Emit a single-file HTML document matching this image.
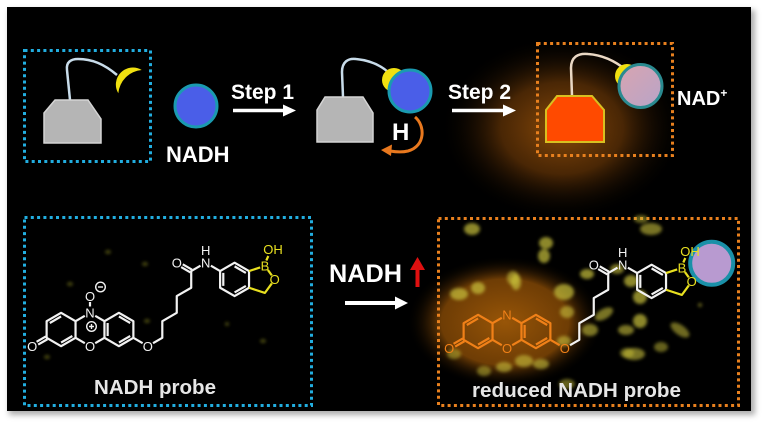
<!DOCTYPE html>
<html><head><meta charset="utf-8"><style>
html,body{margin:0;padding:0;background:#fff;width:768px;height:428px;overflow:hidden}
svg{display:block}
</style></head><body>
<svg width="768" height="428" viewBox="0 0 768 428" xmlns="http://www.w3.org/2000/svg" font-family="'Liberation Sans', Arial, sans-serif">
<defs>
  <filter id="sh" x="-5%" y="-5%" width="110%" height="115%"><feGaussianBlur stdDeviation="3"/></filter>
  <filter id="bl" x="-50%" y="-50%" width="200%" height="200%"><feGaussianBlur stdDeviation="1.6"/></filter>
  <radialGradient id="gTop" cx="0.5" cy="0.5" r="0.5">
    <stop offset="0" stop-color="#a4580a" stop-opacity="0.85"/>
    <stop offset="0.5" stop-color="#7a4008" stop-opacity="0.6"/>
    <stop offset="1" stop-color="#000" stop-opacity="0"/>
  </radialGradient>
  <radialGradient id="gBot" cx="0.5" cy="0.5" r="0.5">
    <stop offset="0" stop-color="#a05a08" stop-opacity="0.95"/>
    <stop offset="0.65" stop-color="#8a4c06" stop-opacity="0.8"/>
    <stop offset="1" stop-color="#000" stop-opacity="0"/>
  </radialGradient>
  <linearGradient id="pink" x1="0" y1="0" x2="1" y2="1">
    <stop offset="0" stop-color="#d8a4b0"/>
    <stop offset="1" stop-color="#b8a4c8"/>
  </linearGradient>
</defs>

<!-- panel -->
<rect x="9" y="10" width="746" height="405" fill="#777" filter="url(#sh)" opacity="0.6"/>
<rect x="7" y="7" width="744" height="404" fill="#000"/>

<!-- glows -->
<ellipse cx="562" cy="128" rx="122" ry="92" fill="url(#gTop)"/>
<ellipse cx="505" cy="322" rx="98" ry="66" fill="url(#gBot)"/>

<!-- dotted boxes -->
<g fill="none" stroke-width="3" stroke-dasharray="3 3.3">
  <rect x="24.5" y="50.5" width="126" height="111" stroke="#22aee0"/>
  <rect x="537.5" y="43.5" width="135" height="112" stroke="#e8801e"/>
  <rect x="24.5" y="217.5" width="287" height="188" stroke="#22aee0"/>
  <rect x="438.5" y="218.5" width="300" height="187" stroke="#e8801e"/>
</g>

<!-- faint specks left box -->
<g fill="#5a5a18" filter="url(#bl)" opacity="0.8">
  <ellipse cx="108" cy="252" rx="3" ry="2"/>
  <ellipse cx="145" cy="264" rx="3" ry="2"/>
  <ellipse cx="70" cy="284" rx="3" ry="2"/>
  <ellipse cx="147" cy="321" rx="3" ry="2"/>
  <ellipse cx="263" cy="341" rx="3" ry="2"/>
  <ellipse cx="47" cy="357" rx="3" ry="2"/>
  <ellipse cx="227" cy="324" rx="2" ry="2"/>
</g>

<!-- yellow cells right box -->
<g fill="#c8c03a" filter="url(#bl)">
  <ellipse cx="472" cy="229" rx="8" ry="6" opacity="0.7"/>
  <ellipse cx="546" cy="243" rx="7" ry="6" opacity="0.7"/>
  <ellipse cx="544" cy="256" rx="6" ry="7" opacity="0.7"/>
  <ellipse cx="651" cy="229" rx="11" ry="6" opacity="0.6"/>
  <ellipse cx="641" cy="219" rx="7" ry="4" opacity="0.5"/>
  <ellipse cx="516" cy="282" rx="5" ry="8" opacity="0.7"/>
  <ellipse cx="459" cy="294" rx="9" ry="6" opacity="0.7"/>
  <ellipse cx="478" cy="288" rx="7" ry="6" opacity="0.7"/>
  <ellipse cx="564" cy="292" rx="10" ry="8" opacity="0.7"/>
  <ellipse cx="567" cy="312" rx="7" ry="6" opacity="0.6"/>
  <ellipse cx="587" cy="274" rx="7" ry="5" opacity="0.7"/>
  <ellipse cx="617" cy="269" rx="7" ry="5" opacity="0.6"/>
  <ellipse cx="631" cy="281" rx="7" ry="6" opacity="0.7"/>
  <ellipse cx="604" cy="314" rx="10" ry="5" opacity="0.6" transform="rotate(-30 604 314)"/>
  <ellipse cx="640" cy="297" rx="7" ry="7" opacity="0.7"/>
  <ellipse cx="640" cy="321" rx="7" ry="7" opacity="0.7"/>
  <ellipse cx="626" cy="330" rx="8" ry="5" opacity="0.6"/>
  <ellipse cx="680" cy="330" rx="11" ry="5" opacity="0.55" transform="rotate(35 680 330)"/>
  <ellipse cx="634" cy="354" rx="11" ry="6" opacity="0.6"/>
  <ellipse cx="661" cy="347" rx="7" ry="5" opacity="0.5"/>
  <ellipse cx="590" cy="330" rx="8" ry="6" opacity="0.6"/>
  <ellipse cx="564" cy="341" rx="7" ry="5" opacity="0.6"/>
  <ellipse cx="524" cy="361" rx="9" ry="6" opacity="0.6"/>
  <ellipse cx="504" cy="367" rx="8" ry="5" opacity="0.6"/>
  <ellipse cx="541" cy="364" rx="8" ry="5" opacity="0.6"/>
  <ellipse cx="484" cy="371" rx="7" ry="5" opacity="0.5"/>
  <ellipse cx="454" cy="354" rx="7" ry="5" opacity="0.5"/>
  <ellipse cx="567" cy="384" rx="8" ry="5" opacity="0.5"/>
  <ellipse cx="513" cy="278" rx="6" ry="7" opacity="0.6"/>
  <ellipse cx="627" cy="353" rx="7" ry="5" opacity="0.5"/>
  <ellipse cx="700" cy="305" rx="2" ry="2" opacity="0.5"/>
</g>

<!-- ===== top row ===== -->
<!-- group 1 -->
<path d="M70,100 L67,70 C66,62 71,59 78,59 C92,59 104,64 117,75" fill="none" stroke="#c8dcea" stroke-width="2.5"/>
<path d="M141.7,70 A17,17 0 0,0 118.3,93.3 A25.7,25.7 0 0,1 141.7,70 Z" fill="#f0e010"/>
<polygon points="44,113 55,100 88,100 101,119 101,143 44,143" fill="#b5b5b5" stroke="#d4d4d4" stroke-width="1.5"/>

<circle cx="196" cy="106" r="21" fill="#4a5ee8" stroke="#1a9ab0" stroke-width="3"/>
<text x="166" y="162" font-size="22" font-weight="bold" fill="#fff">NADH</text>

<text x="231" y="99" font-size="21" font-weight="bold" fill="#fff">Step 1</text>
<line x1="233" y1="110.5" x2="287" y2="110.5" stroke="#fff" stroke-width="3.5"/>
<polygon points="283,104.5 296,110.5 283,116.5" fill="#fff"/>

<!-- group 2 -->
<path d="M343,97 L342,72 C342,62 348,58 356,59 C366,60 378,63 388,72" fill="none" stroke="#c8dcea" stroke-width="2.5"/>
<circle cx="394" cy="80" r="12" fill="#f0e010"/>
<circle cx="410" cy="91" r="21" fill="#4a5ee8" stroke="#1a9ab0" stroke-width="3"/>
<polygon points="317,110 325,97 363,97 373,113 373,142 317,142" fill="#b5b5b5" stroke="#d4d4d4" stroke-width="1.5"/>
<text x="392" y="140" font-size="24" font-weight="bold" fill="#fff">H</text>
<path d="M415,117 C425,125 426,146 408,151 C402,152.5 396,152 390,151" fill="none" stroke="#e8781e" stroke-width="3"/>
<polygon points="381,150 392,144.5 391,156" fill="#e8781e"/>

<text x="448" y="99" font-size="21" font-weight="bold" fill="#fff">Step 2</text>
<line x1="452" y1="110.5" x2="506" y2="110.5" stroke="#fff" stroke-width="3.5"/>
<polygon points="503,104.5 516,110.5 503,116.5" fill="#fff"/>

<!-- group 3 -->
<path d="M572,96 L571,68 C571,57 578,53 588,54 C602,55 614,60 626,70" fill="none" stroke="#ead8c4" stroke-width="2.5"/>
<circle cx="627" cy="76" r="12" fill="#f0e010"/>
<circle cx="640.5" cy="86" r="21.5" fill="url(#pink)" stroke="#2a8a90" stroke-width="3"/>
<polygon points="546,110 557,96 592,96 604,110 604,142 546,142" fill="#ff4a00" stroke="#d8c020" stroke-width="2"/>
<text x="677" y="105" font-size="20" font-weight="bold" fill="#fff">NAD<tspan font-size="12" dy="-8">+</tspan></text>

<!-- ===== bottom row ===== -->
<!-- middle arrow -->
<text x="329" y="282" font-size="25" font-weight="bold" fill="#fff" textLength="73" lengthAdjust="spacingAndGlyphs">NADH</text>
<line x1="345" y1="303" x2="398" y2="303" stroke="#fff" stroke-width="4"/>
<polygon points="395,296.5 408,303 395,309.5" fill="#fff"/>
<rect x="415.5" y="267" width="4" height="20" fill="#e01010"/>
<polygon points="410,270 417.5,257 425,270" fill="#e01010"/>

<!-- LEFT STRUCTURE -->
<g fill="none" stroke="#f2f2f2" stroke-width="2.2" stroke-linejoin="round">
  <path d="M61.08,312.8 L75.54,321.15 L75.54,337.85 L61.08,346.2 L46.62,337.85 L46.62,321.15 Z"/>
  <path d="M118.92,312.8 L133.38,321.15 L133.38,337.85 L118.92,346.2 L104.46,337.85 L104.46,321.15 Z"/>
  <path d="M75.54,321.15 L84.8,315.8 M95.2,315.8 L104.46,321.15 M75.54,337.85 L84.8,343.2 M95.2,343.2 L104.46,337.85"/>
  <path d="M47.42,339.24 L38.16,344.59 M45.82,336.46 L36.56,341.81"/>
  <path d="M49.8,322.99 L61.08,316.47 M61.08,342.53 L72.36,336.01"/>
  <path d="M118.92,316.47 L130.2,322.99 M130.2,336.01 L118.92,342.53 M107.64,336.01 L107.64,322.99"/>
  <path d="M90,306.5 L90,302"/>
  <path d="M133.38,337.85 L142.64,343.2"/>
  <path d="M153.04,343.2 L162.3,337.85 L162.3,321.15 L176.76,312.8 L176.76,296.1 L191.22,287.75 L191.22,271.05 L200.48,265.7"/>
  <path d="M192.02,269.66 L182.76,264.31 M190.42,272.44 L181.16,267.09"/>
  <path d="M210.88,265.7 L220.12,271.05"/>
  <path d="M234.58,262.7 L249.04,271.05 L249.04,287.75 L234.58,296.1 L220.12,287.75 L220.12,271.05 Z"/>
  <path d="M234.58,266.37 L245.86,272.89 M245.86,285.91 L234.58,292.43 M223.3,285.91 L223.3,272.89"/>
</g>
<g fill="none" stroke="#e8e020" stroke-width="2.2" stroke-linejoin="round">
  <path d="M249.04,271.05 L260.17,267.43 M267.86,269.94 L271.8,275.35 M271.8,283.45 L264.92,292.91 L249.04,287.75 M266.3,260.5 L268.3,256"/>
</g>
<g font-size="13" fill="#f2f2f2" text-anchor="middle">
  <text x="90" y="317.5">N</text>
  <text x="90" y="301">O</text>
  <text x="90" y="351">O</text>
  <text x="32.2" y="351">O</text>
  <text x="147.8" y="351">O</text>
  <text x="176.8" y="267.5">O</text>
  <text x="205.7" y="267.5">N</text>
  <text x="205.7" y="255">H</text>
</g>
<g fill="none" stroke="#f2f2f2" stroke-width="1.4">
  <circle cx="100.5" cy="287" r="4.8"/>
  <path d="M98,287 L103,287"/>
  <circle cx="91.5" cy="326.5" r="4.8"/>
  <path d="M89,326.5 L94,326.5 M91.5,324 L91.5,329"/>
</g>
<g font-size="13" fill="#e8e020" text-anchor="middle">
  <text x="264.9" y="270.5">B</text>
  <text x="274.7" y="284">O</text>
  <text x="273" y="254">OH</text>
</g>

<!-- RIGHT STRUCTURE -->
<g transform="translate(417,2)">
  <g fill="none" stroke="#f08018" stroke-width="2.2" stroke-linejoin="round">
    <path d="M61.08,312.8 L75.54,321.15 L75.54,337.85 L61.08,346.2 L46.62,337.85 L46.62,321.15 Z"/>
    <path d="M118.92,312.8 L133.38,321.15 L133.38,337.85 L118.92,346.2 L104.46,337.85 L104.46,321.15 Z"/>
    <path d="M75.54,321.15 L84.8,315.8 M95.2,315.8 L104.46,321.15 M75.54,337.85 L84.8,343.2 M95.2,343.2 L104.46,337.85"/>
    <path d="M47.42,339.24 L38.16,344.59 M45.82,336.46 L36.56,341.81"/>
    <path d="M49.8,322.99 L61.08,316.47 M61.08,342.53 L72.36,336.01"/>
    <path d="M118.92,316.47 L130.2,322.99 M130.2,336.01 L118.92,342.53 M107.64,336.01 L107.64,322.99"/>
    <path d="M133.38,337.85 L142.64,343.2"/>
  </g>
  <g fill="none" stroke="#f2f2f2" stroke-width="2.2" stroke-linejoin="round">
    <path d="M153.04,343.2 L162.3,337.85 L162.3,321.15 L176.76,312.8 L176.76,296.1 L191.22,287.75 L191.22,271.05 L200.48,265.7"/>
    <path d="M192.02,269.66 L182.76,264.31 M190.42,272.44 L181.16,267.09"/>
    <path d="M210.88,265.7 L220.12,271.05"/>
    <path d="M234.58,262.7 L249.04,271.05 L249.04,287.75 L234.58,296.1 L220.12,287.75 L220.12,271.05 Z"/>
    <path d="M234.58,266.37 L245.86,272.89 M245.86,285.91 L234.58,292.43 M223.3,285.91 L223.3,272.89"/>
  </g>
  <g fill="none" stroke="#e8e020" stroke-width="2.2" stroke-linejoin="round">
    <path d="M249.04,271.05 L260.17,267.43 M267.86,269.94 L271.8,275.35 M271.8,283.45 L264.92,292.91 L249.04,287.75 M266.3,260.5 L268.3,256"/>
  </g>
  <g font-size="13" fill="#f08018" text-anchor="middle">
    <text x="90" y="317.5">N</text>
    <text x="90" y="351">O</text>
    <text x="32.2" y="351">O</text>
    <text x="147.8" y="351">O</text>
  </g>
  <g font-size="13" fill="#f2f2f2" text-anchor="middle">
    <text x="176.8" y="267.5">O</text>
    <text x="205.7" y="267.5">N</text>
    <text x="205.7" y="255">H</text>
  </g>
  <circle cx="294.7" cy="261.3" r="21.5" fill="#b89ad0" stroke="#1a90a8" stroke-width="4"/>
  <g font-size="13" fill="#e8e020" text-anchor="middle">
    <text x="264.9" y="270.5">B</text>
    <text x="274.7" y="284">O</text>
    <text x="273" y="254">OH</text>
  </g>
</g>

<!-- labels -->
<text x="94" y="394" font-size="20" font-weight="bold" fill="#e6e6e6" textLength="122" lengthAdjust="spacingAndGlyphs">NADH probe</text>
<text x="472" y="397" font-size="20" font-weight="bold" fill="#e6e6e6" textLength="209" lengthAdjust="spacingAndGlyphs">reduced NADH probe</text>
</svg>
</body></html>
